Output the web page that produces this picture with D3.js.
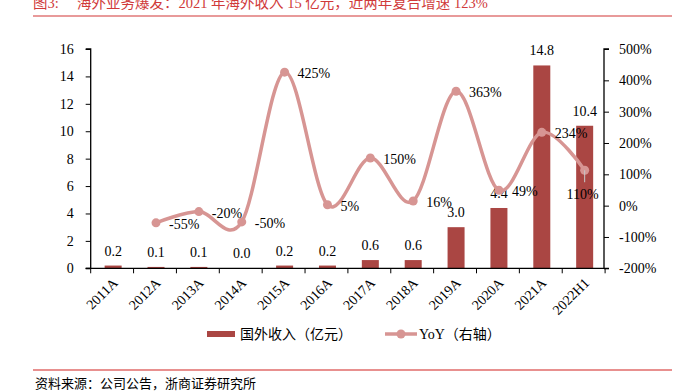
<!DOCTYPE html>
<html><head><meta charset="utf-8">
<script src="https://cdn.jsdelivr.net/npm/d3@7"></script>
<style>
body{margin:0;background:#fff;}
text{font-family:"Liberation Serif","Times New Roman","Noto Sans CJK SC",serif;}
</style></head>
<body><svg id="c" width="685" height="391"></svg>
<script>
const categories=["2011A","2012A","2013A","2014A","2015A","2016A","2017A","2018A","2019A","2020A","2021A","2022H1"];
const revenue=[0.2,0.1,0.1,0.0,0.2,0.2,0.6,0.6,3.0,4.4,14.8,10.4];
const revenueLabels=["0.2","0.1","0.1","0.0","0.2","0.2","0.6","0.6","3.0","4.4","14.8","10.4"];
const yoy=[null,-55,-19,-52,426,3,152,15,365,49,234,113];
const yoyLabels=[null,"-55%","-20%","-50%","425%","5%","150%","16%","363%","49%","234%","110%"];
const leftTicks=[0,2,4,6,8,10,12,14,16];
const rightTicks=[-200,-100,0,100,200,300,400,500];
const titleHead="图3:";
const title="海外业务爆发：2021 年海外收入 15 亿元，近两年复合增速 123%";
const source="资料来源：公司公告，浙商证券研究所";
const legendBar="国外收入（亿元）";
const legendLine="YoY（右轴）";

const svg=d3.select("#c");
const L=90.7,R=604,T=49,B=268.3;
const x=d3.scaleBand().domain(categories).range([L,605.1]).paddingInner(0).paddingOuter(0);
const yL=d3.scaleLinear().domain([0,16]).range([B,T]);
const yR=d3.scaleLinear().domain([-200,500]).range([B,T]);
const barColor="#AA4643", lineColor="#D79593";

// title
svg.append("text").attr("x",33).attr("y",8).attr("font-size",14.5).attr("fill","#D03A3A").text(titleHead);
svg.append("text").attr("x",77).attr("y",8).attr("font-size",14.5).attr("fill","#D03A3A").text(title);
svg.append("line").attr("x1",33).attr("x2",672).attr("y1",16).attr("y2",16).attr("stroke","#E07878").attr("stroke-width",1.5);

// bars
const bw=17;
svg.append("g").selectAll("rect").data(revenue).join("rect")
  .attr("x",(d,i)=>x(categories[i])+x.bandwidth()/2-bw/2+1)
  .attr("width",bw)
  .attr("y",d=>yL(d))
  .attr("height",d=>B-yL(d))
  .attr("fill",barColor);

// bar labels
svg.append("g").selectAll("text").data(revenue).join("text")
  .attr("x",(d,i)=>x(categories[i])+x.bandwidth()/2+1)
  .attr("y",d=>yL(d)-10)
  .attr("text-anchor","middle").attr("font-size",14).attr("fill","#000")
  .text((d,i)=>revenueLabels[i]);

// axes
const axL=svg.append("g").attr("transform",`translate(${L},0)`)
  .call(d3.axisLeft(yL).tickValues(leftTicks).tickSize(5).tickPadding(12).tickFormat(d3.format("d")));
const axR=svg.append("g").attr("transform",`translate(${R},0)`)
  .call(d3.axisRight(yR).tickValues(rightTicks).tickSize(5).tickPadding(10).tickFormat(d=>d+"%"));
const axX=svg.append("g").attr("transform",`translate(0,${B})`)
  .call(d3.axisBottom(x).tickSize(5).tickFormat(""));
axX.selectAll(".tick").remove();
const edges=categories.map(c=>x(c)).concat([x(categories[categories.length-1])+x.bandwidth()]);
axX.selectAll("line.edge").data(edges).join("line").attr("class","edge")
  .attr("x1",d=>d).attr("x2",d=>d).attr("y1",0).attr("y2",5).attr("stroke","#000");
[axL,axR,axX].forEach(a=>{a.attr("font-family",null);
  a.selectAll("path").attr("stroke","#000").attr("stroke-width",1.3);
  a.selectAll("line").attr("stroke","#000");
  a.selectAll("text").attr("font-size",14).attr("fill","#000");});
axL.select("path").attr("d",`M-5,${B}H0V${T}H-5`);
axR.select("path").attr("d",`M5,${B}H0V${T}H5`);
axX.select("path").attr("d",`M${L-5},0H${R}`);

// x labels
svg.append("g").selectAll("text").data(categories).join("text")
  .attr("transform",d=>`translate(${x(d)+x.bandwidth()/2+3},${B+12}) rotate(-45)`)
  .attr("text-anchor","end").attr("font-size",14).attr("dy","0.35em").text(d=>d);

// line
const pts=yoy.map((v,i)=>v==null?null:[x(categories[i])+x.bandwidth()/2+1,yR(v)]).filter(p=>p);
svg.append("path").attr("d",d3.line().curve(d3.curveCardinal.tension(0))(pts))
  .attr("fill","none").attr("stroke",lineColor).attr("stroke-width",3.5);
svg.append("g").selectAll("circle").data(pts).join("circle")
  .attr("cx",d=>d[0]).attr("cy",d=>d[1]).attr("r",4.5).attr("fill",lineColor);

// yoy labels
yoy.forEach((v,i)=>{
  if(v==null)return;
  const cx=x(categories[i])+x.bandwidth()/2+1, cy=yR(v);
  if(i===categories.length-1){
    svg.append("line").attr("x1",cx).attr("x2",cx).attr("y1",cy).attr("y2",cy+12).attr("stroke","#c8c8c8").attr("stroke-width",1);
    svg.append("text").attr("x",cx-2).attr("y",cy+29).attr("text-anchor","middle").attr("font-size",14).text(yoyLabels[i]);
  } else {
    svg.append("text").attr("x",cx+13).attr("y",cy+6).attr("font-size",14).text(yoyLabels[i]);
  }
});

// legend
svg.append("rect").attr("x",207).attr("y",331).attr("width",28).attr("height",6).attr("fill",barColor);
svg.append("text").attr("x",240).attr("y",339).attr("font-size",14).text(legendBar);
svg.append("line").attr("x1",385).attr("x2",417).attr("y1",334).attr("y2",334).attr("stroke",lineColor).attr("stroke-width",3.5);
svg.append("circle").attr("cx",401).attr("cy",334).attr("r",4.5).attr("fill",lineColor);
svg.append("text").attr("x",419).attr("y",339).attr("font-size",14).text(legendLine);

// footer
svg.append("line").attr("x1",33).attr("x2",672).attr("y1",370).attr("y2",370).attr("stroke","#E8908F").attr("stroke-width",2);
svg.append("text").attr("x",35).attr("y",388).attr("font-size",13).text(source);
</script></body></html>
